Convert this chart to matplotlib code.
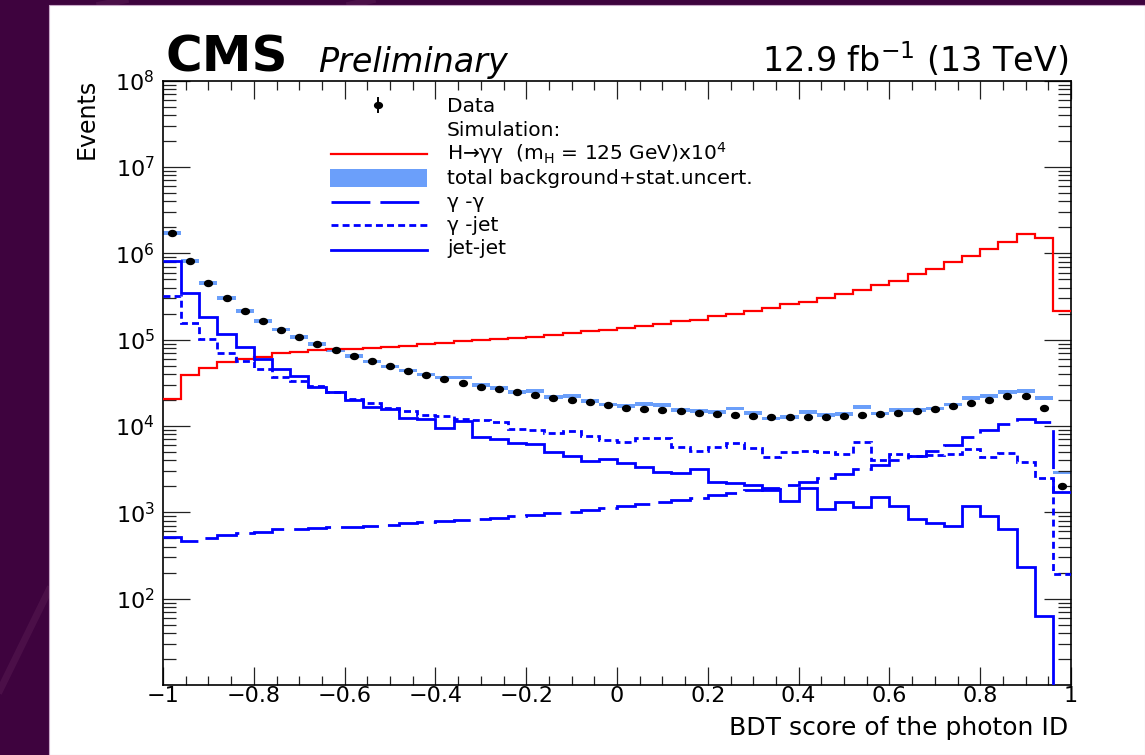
import numpy as np
import matplotlib
matplotlib.use("Agg")
import matplotlib.pyplot as plt
from matplotlib.path import Path
from matplotlib.markers import MarkerStyle
from matplotlib.patches import Rectangle
from matplotlib.lines import Line2D
from matplotlib.transforms import Affine2D

# ---------------------------------------------------------------- data
bdt_min, bdt_max, n_bins = -1.0, 1.0, 50

data_counts = [
    1.73e6, 8.1e5, 4.5e5, 3.03e5, 2.16e5, 1.66e5, 1.31e5, 1.07e5, 8.9e4, 7.6e4,
    6.5e4, 5.6e4, 4.9e4, 4.37e4, 3.89e4, 3.49e4, 3.14e4, 2.85e4, 2.66e4, 2.45e4,
    2.26e4, 2.10e4, 2.00e4, 1.88e4, 1.76e4, 1.63e4, 1.56e4, 1.52e4, 1.48e4, 1.42e4,
    1.36e4, 1.34e4, 1.30e4, 1.27e4, 1.27e4, 1.26e4, 1.28e4, 1.30e4, 1.34e4, 1.37e4,
    1.42e4, 1.50e4, 1.58e4, 1.71e4, 1.86e4, 2.01e4, 2.20e4, 2.22e4, 1.63e4, 2.03e3,
]

bkg_total = [
    1.73e6, 8.1e5, 4.5e5, 3.03e5, 2.16e5, 1.66e5, 1.31e5, 1.07e5, 8.9e4, 7.6e4,
    6.5e4, 5.6e4, 4.9e4, 4.4e4, 3.95e4, 3.66e4, 3.66e4, 2.98e4, 2.75e4, 2.50e4,
    2.56e4, 2.15e4, 2.24e4, 1.96e4, 1.78e4, 1.70e4, 1.81e4, 1.75e4, 1.53e4, 1.50e4,
    1.45e4, 1.60e4, 1.42e4, 1.22e4, 1.27e4, 1.45e4, 1.34e4, 1.37e4, 1.67e4, 1.40e4,
    1.55e4, 1.52e4, 1.60e4, 1.78e4, 2.12e4, 2.24e4, 2.49e4, 2.57e4, 2.10e4, 2.90e3,
]
bkg_rel_stat_unc = 0.05

signal_x1e4 = [
    2.07e4, 3.92e4, 4.69e4, 5.50e4, 6.00e4, 6.35e4, 6.93e4, 7.18e4, 7.51e4, 7.70e4,
    7.85e4, 8.00e4, 8.15e4, 8.50e4, 8.90e4, 9.20e4, 9.55e4, 9.90e4, 1.01e5, 1.05e5,
    1.08e5, 1.12e5, 1.20e5, 1.25e5, 1.30e5, 1.36e5, 1.43e5, 1.52e5, 1.64e5, 1.69e5,
    1.89e5, 1.96e5, 2.14e5, 2.34e5, 2.57e5, 2.75e5, 3.03e5, 3.38e5, 3.76e5, 4.26e5,
    4.77e5, 5.71e5, 6.58e5, 7.87e5, 9.30e5, 1.13e6, 1.36e6, 1.67e6, 1.52e6, 2.14e5,
]

gamma_gamma = [
    512, 468, 499, 545, 569, 595, 634, 639, 656, 668,
    679, 692, 711, 743, 777, 791, 812, 834, 863, 903,
    927, 970, 1010, 1060, 1110, 1180, 1250, 1320, 1380, 1470,
    1580, 1680, 1810, 1890, 2070, 2260, 2470, 2770, 3140, 3520,
    4030, 4480, 5160, 6000, 7400, 8960, 1.05e4, 1.22e4, 1.12e4, 1730,
]

gamma_jet = [
    3.18e5, 1.58e5, 1.02e5, 7.1e4, 5.6e4, 4.56e4, 3.72e4, 3.31e4, 2.92e4, 2.49e4,
    2.05e4, 1.86e4, 1.63e4, 1.49e4, 1.34e4, 1.30e4, 1.19e4, 1.17e4, 1.10e4, 9.2e3,
    8.96e3, 8.2e3, 8.8e3, 7.6e3, 6.9e3, 6.57e3, 7.2e3, 7.2e3, 5.74e3, 5.16e3,
    5.64e3, 6.38e3, 5.5e3, 4.4e3, 5.0e3, 5.1e3, 5.0e3, 4.8e3, 6.57e3, 4.03e3,
    4.8e3, 4.5e3, 4.6e3, 4.8e3, 5.36e3, 4.4e3, 4.9e3, 3.85e3, 2.47e3, 192,
]

jet_jet = [
    8.15e5, 3.49e5, 1.81e5, 1.16e5, 8.15e4, 5.9e4, 4.52e4, 3.82e4, 2.85e4, 2.45e4,
    2.0e4, 1.67e4, 1.57e4, 1.25e4, 1.22e4, 9.6e3, 1.14e4, 7.5e3, 7.05e3, 6.3e3,
    6.2e3, 5.0e3, 4.5e3, 3.9e3, 4.2e3, 3.7e3, 3.37e3, 2.94e3, 2.82e3, 3.14e3,
    2.25e3, 2.16e3, 2.07e3, 1.81e3, 1.36e3, 1.89e3, 1.08e3, 1.32e3, 1.16e3, 1.49e3,
    1.19e3, 828, 755, 692, 1190, 910, 634, 234, 62.7, 1.0,
]

xtick_values = [-1.0, -0.8, -0.6, -0.4, -0.2, 0.0, 0.2, 0.4, 0.6, 0.8, 1.0]
xtick_labels = ["\u22121", "\u22120.8", "\u22120.6", "\u22120.4", "\u22120.2", "0",
                "0.2", "0.4", "0.6", "0.8", "1"]
ytick_values = [1e2, 1e3, 1e4, 1e5, 1e6, 1e7, 1e8]
ytick_labels = [r"$10^{2}$", r"$10^{3}$", r"$10^{4}$", r"$10^{5}$",
                r"$10^{6}$", r"$10^{7}$", r"$10^{8}$"]

legend_labels = ["Data", "Simulation:",
                 "H\u2192\u03b3\u03b3  (m$_{\\rm H}$ = 125 GeV)x10$^{4}$",
                 "total background+stat.uncert.", "\u03b3 -\u03b3", "\u03b3 -jet", "jet-jet"]

# ---------------------------------------------------------------- style
W, H = 1145, 755
SLIDE = "#3e033e"
BAND = "#6b9ffa"
BLUE = "#0000ff"
RED = "#ff0000"
LW_BLUE = 2.0
LW_RED = 1.6
DASH_LONG = (0, (14.0, 3.6))
DASH_SHORT = (0, (2.5, 1.5))


def fpx(x, y):
    """Pixel position on the canvas -> figure fraction."""
    return x / W, 1.0 - y / H


fig = plt.figure(figsize=(W / 100, H / 100), dpi=100)
fig.patch.set_facecolor(SLIDE)

# faint light streaks on the slide background
for (xa, ya), (xb, yb) in [((0, 690), (49, 590)), ((100, 5), (125, 0)), ((350, 5), (372, 0))]:
    fig.add_artist(Line2D([xa / W, xb / W], [1 - ya / H, 1 - yb / H],
                          color="#8a4a7a", lw=5, alpha=0.18, zorder=-2))

# white page
fig.add_artist(Rectangle(fpx(49, 755), 1 - 49 / W, (755 - 5) / H,
                         transform=fig.transFigure, facecolor="white",
                         edgecolor="#c9a9c9", lw=0.8, zorder=-1))

ax = fig.add_axes([163 / W, 1 - 685 / H, 908 / W, 604.3 / H])
ax.set_facecolor("white")

edges = np.linspace(bdt_min, bdt_max, n_bins + 1)
centers = 0.5 * (edges[:-1] + edges[1:])

bkg = np.asarray(bkg_total)
ax.stairs(bkg * (1 + bkg_rel_stat_unc), edges, baseline=bkg * (1 - bkg_rel_stat_unc),
          fill=True, color=BAND, lw=0, zorder=1)

ax.stairs(signal_x1e4, edges, baseline=None, color=RED, lw=LW_RED, zorder=3,
          joinstyle="miter")
ax.stairs(gamma_gamma, edges, baseline=None, color=BLUE, lw=LW_BLUE,
          linestyle=DASH_LONG, zorder=3, joinstyle="miter")
ax.stairs(gamma_jet, edges, baseline=None, color=BLUE, lw=LW_BLUE,
          linestyle=DASH_SHORT, zorder=3, joinstyle="miter")
ax.stairs(jet_jet, edges, baseline=None, color=BLUE, lw=LW_BLUE, zorder=3,
          joinstyle="miter")

# slightly wide filled dots for the data
dot_path = Path.unit_circle().transformed(Affine2D().scale(1.3, 1.0))
dot = MarkerStyle(dot_path)
ax.plot(centers, data_counts, linestyle="none", marker=dot, ms=5.6,
        color="black", zorder=5)

# ---------------------------------------------------------------- axes
ax.set_xlim(bdt_min, bdt_max)
ax.set_yscale("log")
ax.set_ylim(10, 1e8)

ax.set_xticks(xtick_values, xtick_labels)
ax.xaxis.set_minor_locator(matplotlib.ticker.MultipleLocator(0.05))
ax.set_yticks(ytick_values, ytick_labels)
ax.yaxis.set_minor_locator(matplotlib.ticker.LogLocator(base=10, subs=np.arange(2, 10)))
ax.yaxis.set_minor_formatter(matplotlib.ticker.NullFormatter())

ax.tick_params(which="both", direction="in", top=True, right=True, color="#222222",
               width=0.9)
ax.tick_params(axis="x", which="major", length=13, labelsize=16, pad=1)
ax.tick_params(axis="x", which="minor", length=6.8)
ax.tick_params(axis="y", which="major", length=19.4, labelsize=16, pad=6)
ax.tick_params(axis="y", which="minor", length=9.4)
for sp in ax.spines.values():
    sp.set_linewidth(1.2)
    sp.set_color("black")

ax.set_xlabel("BDT score of the photon ID", fontsize=18, loc="right")
ax.xaxis.set_label_coords((1068 - 163) / 908, (685 - 735) / 604.3)
ax.xaxis.label.set_va("baseline")
ax.xaxis.label.set_ha("right")

ax.set_ylabel("Events", fontsize=17, loc="top")
ax.yaxis.set_label_coords((87 - 163) / 908, 1 + (80.7 - 79) / 604.3)
ax.yaxis.label.set_va("center")
ax.yaxis.label.set_ha("right")

# ---------------------------------------------------------------- header
fig.text(*fpx(165, 72), "CMS", fontsize=36, fontweight="bold", ha="left", va="baseline")
fig.text(*fpx(318, 72), "Preliminary", fontsize=24, style="italic", ha="left",
         va="baseline")
fig.text(*fpx(1068, 72), r"12.9 fb$^{-1}$ (13 TeV)", fontsize=24, ha="right",
         va="baseline")

# ---------------------------------------------------------------- legend
text_x = 447
baselines = [112, 135.5, 159.5, 184, 207.5, 231, 254.5]
for lab, yb in zip(legend_labels, baselines):
    fig.text(*fpx(text_x, yb), lab, fontsize=14.5, ha="left", va="baseline")

h0, h1 = 331, 427
# data marker with its error bar
fig.add_artist(Line2D([378 / W] * 2, [1 - 98 / H, 1 - 112 / H], color="black", lw=1.4))
fig.add_artist(Line2D([378 / W], [1 - 105 / H], marker=dot, ms=5.6, color="black",
                      linestyle="none"))
fig.add_artist(Line2D([h0 / W, h1 / W], [1 - 153.5 / H] * 2, color=RED, lw=LW_RED))
fig.add_artist(Rectangle(fpx(h0 - 1, 187), (h1 - h0 + 1) / W, 18 / H,
                         transform=fig.transFigure, facecolor=BAND, lw=0))
fig.add_artist(Line2D([h0 / W, h1 / W], [1 - 201.5 / H] * 2, color=BLUE, lw=LW_BLUE,
                      linestyle=DASH_LONG))
fig.add_artist(Line2D([h0 / W, h1 / W], [1 - 225 / H] * 2, color=BLUE, lw=LW_BLUE,
                      linestyle=DASH_SHORT))
fig.add_artist(Line2D([h0 / W, h1 / W], [1 - 249.5 / H] * 2, color=BLUE, lw=LW_BLUE))

fig.savefig("out.png", dpi=100, facecolor=fig.get_facecolor())
